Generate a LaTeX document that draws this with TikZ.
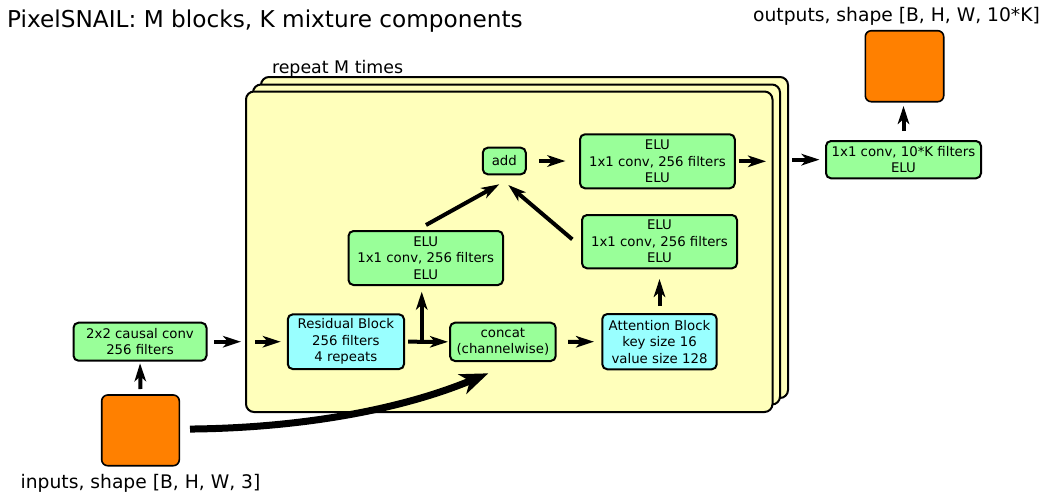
\documentclass[tikz,border=0pt]{standalone}
\usepackage{fontspec}
\setmainfont{DejaVu Sans}
\usetikzlibrary{arrows.meta,calc}
\definecolor{boxgreen}{RGB}{153,255,153}
\definecolor{boxcyan}{RGB}{153,255,255}
\definecolor{boxyellow}{RGB}{255,255,187}
\definecolor{boxorange}{RGB}{255,128,0}
\begin{document}
\begin{tikzpicture}[x=1pt,y=-1pt,
  blk/.style={draw=black, line width=2pt, rounded corners=5pt, inner sep=0pt, outer sep=0pt, align=center, font=\fontsize{13.3}{16.5}\selectfont},
  grn/.style={blk, fill=boxgreen},
  cyn/.style={blk, fill=boxcyan},
  tensor/.style={draw=black, line width=1.6pt, rounded corners=6pt, fill=boxorange, inner sep=0pt, outer sep=0pt},
  stackbox/.style={draw=black, line width=2pt, rounded corners=8pt, fill=boxyellow, inner sep=0pt, outer sep=0pt},
  arr/.style={line width=4pt, -{Stealth[length=18pt,width=11.5pt,inset=5pt]}},
  bigarr/.style={line width=7pt, -{Stealth[length=28pt,width=21pt,inset=8pt]}},
  lbl/.style={inner sep=0pt, outer sep=0pt, font=\fontsize{18.7}{22}\selectfont},
]
\useasboundingbox (0,0) rectangle (1043,493);

% title and labels
\node[inner sep=0pt, anchor=base west, font=\fontsize{23.2}{28}\selectfont] (title) at (7,27.5) {PixelSNAIL: M blocks, K mixture components};
\node[lbl, anchor=base west, font=\fontsize{17.4}{20}\selectfont] (rep) at (272,73) {repeat M times};
\node[lbl, anchor=base] (outlbl) at (896.5,21) {outputs, shape [B, H, W, 10*K]};
\node[lbl, anchor=base] (inlbl) at (140.5,488) {inputs, shape [B, H, W, 3]};

% stacked repeat boxes
\node[stackbox, minimum width=527pt, minimum height=321pt] (back) at (524.5,237.5) {};
\node[stackbox, minimum width=527pt, minimum height=320pt] (mid) at (516.5,244.5) {};
\node[stackbox, minimum width=526.5pt, minimum height=320.5pt] (front) at (509.25,251.75) {};

% nodes
\node[tensor, minimum width=77.6pt, minimum height=70.7pt] (input) at (140.5,430.35) {};
\node[grn, minimum width=133pt, minimum height=38pt] (conv) at (140,341.7) {2x2 causal conv\\256 filters};
\node[cyn, minimum width=116.3pt, minimum height=54.7pt] (res) at (345.9,341.7) {Residual Block\\256 filters\\4 repeats};
\node[grn, minimum width=105.7pt, minimum height=38.3pt] (concat) at (502.85,341.85) {concat\\(channelwise)};
\node[cyn, minimum width=114.4pt, minimum height=55.3pt] (att) at (659.5,341.65) {Attention Block\\key size 16\\value size 128};
\node[grn, minimum width=154.5pt, minimum height=54pt] (elu1) at (425.75,258) {ELU\\1x1 conv, 256 filters\\ELU};
\node[grn, minimum width=155pt, minimum height=53.3pt] (elu2) at (659.5,241.65) {ELU\\1x1 conv, 256 filters\\ELU};
\node[grn, minimum width=154.8pt, minimum height=54pt] (elu3) at (657.4,161.3) {ELU\\1x1 conv, 256 filters\\ELU};
\node[grn, minimum width=43pt, minimum height=26.6pt] (add) at (504.3,161) {add};
\node[grn, minimum width=155pt, minimum height=37.3pt] (final) at (903.5,159.65) {1x1 conv, 10*K filters\\ELU};
\node[tensor, minimum width=78.4pt, minimum height=71pt] (output) at (904.5,66.2) {};

% connectors
\draw[arr, shorten <=6pt, shorten >=2.6pt] (input.north) -- (conv.south);
\draw[arr, shorten <=7.8pt, shorten >=5pt] (conv.east) -- (conv.east -| front.west);
\draw[arr, shorten <=9pt, shorten >=7pt] (res.west -| front.west) -- (res.west);
\draw[arr, shorten <=4pt, shorten >=2pt] (res.east) -- (concat.west);
\coordinate (br) at ($(res.east)!0.385!(concat.west)$);
\draw[arr, shorten >=6.7pt] ($(br)+(0,2)$) -- (br |- elu1.south);
\draw[arr, shorten <=12.3pt, shorten >=8.3pt] (concat.east) -- (att.west);
\draw[arr, shorten <=8pt, shorten >=10.7pt] (att.north) -- (att.north |- elu2.south);
\draw[arr] ($(elu1.north)+(0.25,-6)$) -- ($(add.south)+(-5,10)$);
\draw[arr] ($(elu2.west)+(-9.7,-2.3)$) -- ($(add.south)+(4,10.7)$);
\draw[arr, shorten <=13pt, shorten >=14.6pt] (add.east) -- (add.east -| elu3.west);
\draw[arr, shorten <=4.5pt, shorten >=6.5pt] (elu3.east) -- (elu3.east -| front.east);
\draw[arr, shorten <=4pt, shorten >=6.5pt] (final.west -| back.east) -- (final.west);
\draw[arr, shorten <=10pt, shorten >=4.3pt] (final.north) -- (final.north |- output.south);
\draw[bigarr] ($(input.east)+(10.7,-1.3)$) .. controls (300,428) and (400,410) .. ($(concat.south)+(-14.5,12.3)$);
\end{tikzpicture}
\end{document}
